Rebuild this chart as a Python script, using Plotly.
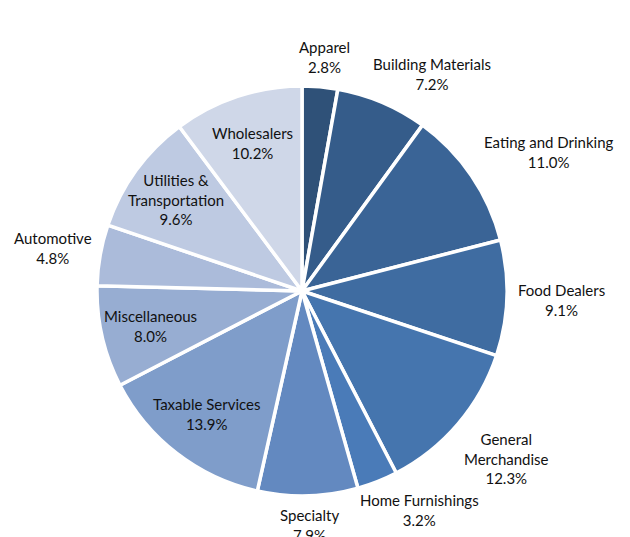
import math
import plotly.graph_objects as go

# retail sales share by category
categories = ["Apparel", "Building Materials", "Eating and Drinking", "Food Dealers",
              "General Merchandise", "Home Furnishings", "Specialty", "Taxable Services",
              "Miscellaneous", "Automotive", "Utilities & Transportation", "Wholesalers"]
label_lines = [["Apparel"], ["Building Materials"], ["Eating and Drinking"], ["Food Dealers"],
               ["General", "Merchandise"], ["Home Furnishings"], ["Specialty"], ["Taxable Services"],
               ["Miscellaneous"], ["Automotive"], ["Utilities &", "Transportation"], ["Wholesalers"]]
shares = [2.8, 7.2, 11.0, 9.1, 12.3, 3.2, 7.9, 13.9, 8.0, 4.8, 9.6, 10.2]
outside = [True, True, True, True, True, True, True, False, False, True, False, False]

colors = ["#2F5178", "#355C8A", "#3A6496", "#3F6CA1", "#4575AE", "#4A7BB8",
          "#6389C0", "#7F9DCA", "#97ADD2", "#ABBBDA", "#BECAE2", "#CFD7E8"]

W, H = 630, 537
cx, cy, r = 294, 283, 205   # pie centre / radius in figure pixels
FONT = dict(family="Lato, Open Sans, sans-serif", size=15, color="#111111")
CHAR_W, LINE_H = 7.1, 17.5

fig = go.Figure()
fig.add_trace(go.Pie(
    labels=categories, values=shares, textinfo="none",
    sort=False, direction="clockwise", rotation=0,
    marker=dict(colors=colors, line=dict(color="white", width=3.5)),
    domain=dict(x=[(cx - r) / W, (cx + r) / W], y=[(H - cy - r) / H, (H - cy + r) / H]),
    showlegend=False, hoverinfo="label+percent",
))

# data labels placed along each slice's mid-angle, like the source chart
total = sum(shares)
cum = 0
for lines, v, out in zip(label_lines, shares, outside):
    theta = math.radians((cum + v / 2) / total * 360)
    cum += v
    s, c = math.sin(theta), math.cos(theta)
    txt = lines + [f"{v:.1f}%"]
    w = max(len(t) for t in txt) * CHAR_W
    h = len(txt) * LINE_H
    if out:
        d = r + 12
        px = cx + d * s + w / 2 * math.copysign(min(1, abs(s) * 1.8), s)
        py = cy - d * c - h / 2 * math.copysign(min(1, abs(c) * 1.8), c)
    else:
        d = r * 0.76
        px, py = cx + d * s, cy - d * c
    fig.add_annotation(x=px / W, y=1 - py / H, xref="paper", yref="paper",
                       text="<br>".join(txt), showarrow=False, font=FONT,
                       xanchor="center", yanchor="middle", align="center")

fig.update_layout(width=W, height=H, margin=dict(l=0, r=0, t=0, b=0),
                  paper_bgcolor="white", plot_bgcolor="white")
fig.write_html("out.html")
